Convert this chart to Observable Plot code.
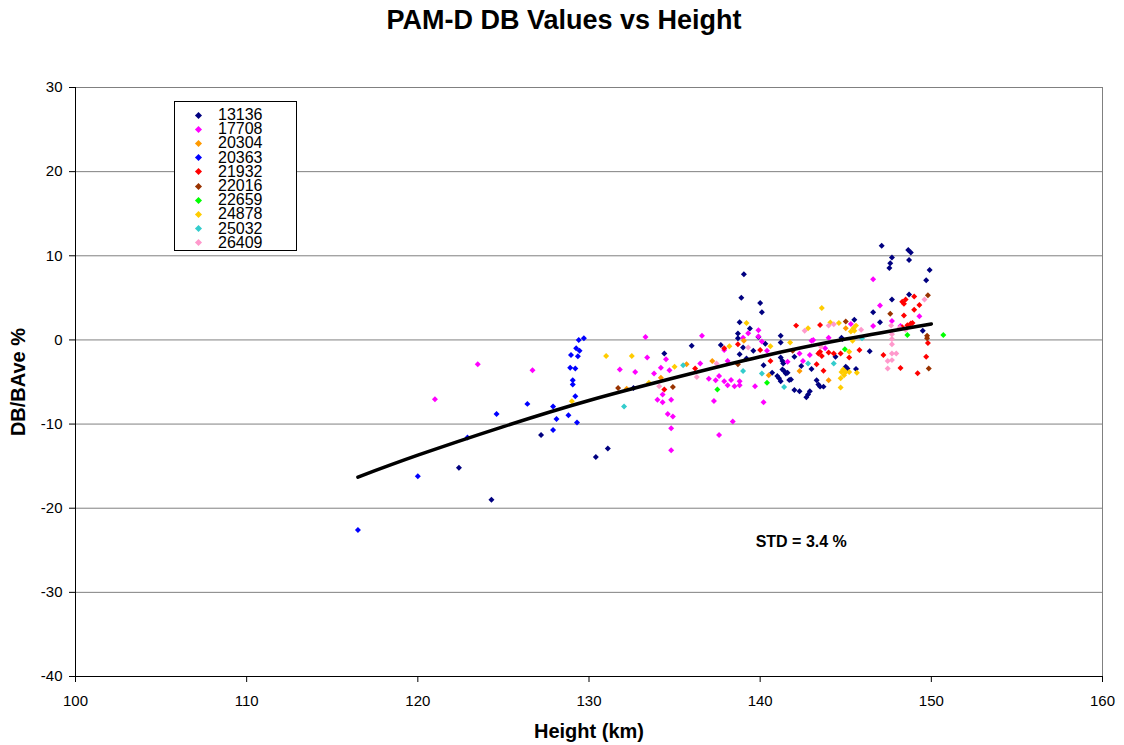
<!DOCTYPE html>
<html>
<head>
<meta charset="utf-8">
<script src="https://cdn.jsdelivr.net/npm/d3@7"></script>
<script src="https://cdn.jsdelivr.net/npm/@observablehq/plot@0.6"></script>
<style>
  html, body { margin: 0; padding: 0; background: white; }
  #wrap { position: relative; width: 1124px; height: 745px; font-family: "Liberation Sans", Arial, sans-serif; }
  #legend { position: absolute; left: 174px; top: 101px; width: 121px; height: 148px; border: 1px solid black; background: white; box-sizing: content-box; padding-top: 0; }
  .row { position: absolute; left: 0; height: 14.2px; line-height: 14.2px; font-size: 16px; width: 121px; }
  .row .sym { position: absolute; left: 21px; top: 4.6px; width: 5px; height: 5px; transform: rotate(45deg); }
  .row .lab { position: absolute; left: 43px; top: 0; }
</style>
</head>
<body>
<div id="wrap"><div id="legend"></div></div>
<script>
// ---- data (height km, DB/BAve %) ----
const s13136 = [[122.4,-15.2],[124.3,-19.0],[127.2,-11.3],[130.4,-13.9],[131.1,-12.9],[132.6,-5.7],[134.4,-1.6],[136.0,-0.7],[137.7,-0.6],[138.7,0.75],[138.8,2.1],[138.7,0.2],[138.8,-1.7],[139.0,-0.9],[139.4,1.35],[139.2,-2.2],[139.05,7.8],[138.9,5.0],[140.0,4.4],[140.1,3.3],[139.9,0.36],[140.3,-0.44],[140.2,-3.0],[140.7,-3.9],[141.2,0.5],[141.2,-0.3],[141.4,-3.7],[141.6,-3.9],[141.7,-4.75],[139.6,-1.3],[141.2,-2.1],[141.3,-2.5],[141.35,-2.8],[142.0,-2.0],[142.4,-3.1],[143.0,-3.45],[141.3,-3.5],[141.5,-4.0],[141.0,-4.3],[141.1,-4.55],[141.2,-4.9],[141.8,-4.7],[143.3,-4.8],[143.4,-5.3],[143.5,-5.55],[143.7,-5.55],[142.0,-5.95],[142.3,-6.1],[142.9,-6.1],[142.8,-6.5],[142.7,-6.8],[147.1,11.2],[147.7,9.8],[147.6,9.1],[147.55,8.55],[148.65,10.7],[148.8,10.4],[148.7,9.5],[149.9,8.3],[149.7,7.1],[148.7,5.4],[147.7,4.8],[146.6,3.3],[147.0,2.1],[149.5,1.1],[146.4,-1.35],[144.8,0.1],[145.5,2.4],[144.4,-2.0],[144.75,0.25],[145.6,-3.45],[145.0,-3.2],[145.1,-3.4]];
const s17708 = [[121.0,-7.05],[123.5,-2.9],[126.7,-3.6],[131.8,-3.5],[132.7,-3.8],[133.3,0.36],[133.4,-2.1],[134.5,-2.3],[133.8,-4.0],[134.2,-3.3],[134.7,-3.6],[134.3,-6.5],[134.0,-7.1],[134.3,-7.4],[134.8,-7.1],[134.6,-8.8],[134.9,-9.1],[134.8,-10.5],[134.8,-13.1],[136.6,0.5],[136.5,-2.8],[137.0,-4.6],[137.4,-4.8],[137.6,-4.3],[137.9,-4.9],[138.1,-5.4],[138.3,-4.75],[138.5,-5.5],[138.8,-4.9],[138.8,-5.4],[137.3,-7.25],[138.4,-9.7],[137.6,-11.3],[138.1,-2.5],[137.9,-1.2],[139.0,0.27],[139.3,0.8],[139.9,1.15],[140.1,-0.2],[140.4,-1.3],[139.7,-5.5],[140.2,-7.4],[141.6,-2.6],[139.9,0.4],[142.3,-1.6],[143.0,-0.1],[144.0,0.27],[142.5,-2.5],[142.9,-1.8],[143.8,-1.0],[143.1,0.0],[146.6,7.2],[147.0,4.1],[149.3,2.8],[147.7,2.26],[146.6,1.66],[148.2,1.66],[145.3,1.9]];
const s20304 = [[134.2,-4.5],[135.7,-2.9],[132.2,-5.8],[137.2,-2.5],[139.05,-0.1],[140.5,-4.2],[142.3,-3.7],[144.0,-4.8],[145.0,1.4]];
const s20363 = [[116.5,-22.6],[120.0,-16.2],[122.9,-11.6],[124.6,-8.8],[126.4,-7.6],[127.9,-7.9],[128.1,-9.4],[127.9,-10.7],[128.8,-8.95],[129.3,-9.8],[129.2,-6.7],[129.05,-4.8],[129.05,-5.3],[128.9,-3.3],[129.2,-3.4],[128.95,-1.8],[129.35,-1.95],[129.25,-1.0],[129.45,-1.3],[129.4,0.0],[129.7,0.2]];
const s21932 = [[134.4,-5.9],[136.2,-3.4],[137.9,-1.0],[138.7,-0.5],[140.0,-1.2],[140.6,-2.5],[142.1,1.7],[143.5,1.78],[143.5,-1.4],[143.6,-1.9],[143.4,-1.6],[144.0,-1.5],[144.3,-1.6],[143.3,-2.9],[143.7,-3.65],[144.7,-1.6],[145.2,-2.1],[145.8,-1.2],[147.2,-1.8],[149.0,5.15],[148.3,4.55],[148.5,4.8],[148.4,4.3],[149.3,4.16],[149.0,3.6],[148.4,2.9],[148.6,1.75],[148.8,1.94],[148.9,2.0],[148.3,1.5],[149.8,-0.36],[148.2,-3.33],[149.7,-2.0],[149.2,-3.96]];
const s22016 = [[131.7,-5.7],[134.9,-5.6],[138.7,-2.9],[141.9,-1.3],[145.0,2.2],[147.6,3.1],[149.8,5.3],[149.75,0.5],[149.75,0.2],[149.85,-3.4]];
const s22659 = [[137.5,-5.9],[140.4,-5.1],[144.95,-1.1],[148.6,0.6],[150.7,0.6]];
const s24878 = [[129.0,-7.3],[131.0,-1.9],[132.5,-1.9],[133.5,-5.1],[135.0,-3.2],[138.2,-0.75],[139.2,2.0],[140.6,-0.75],[141.75,-0.3],[142.8,1.4],[143.6,3.8],[144.1,2.06],[144.6,2.0],[145.2,-1.4],[145.3,1.0],[145.45,1.4],[145.6,1.7],[145.5,1.1],[145.4,-0.1],[144.85,-3.5],[144.75,-3.8],[145.0,-3.8],[144.9,-4.2],[144.7,-4.55],[144.7,-5.66],[145.2,-3.8],[145.65,-3.9]];
const s25032 = [[132.05,-7.9],[135.5,-3.0],[139.0,-3.7],[140.1,-4.0],[141.4,-5.6],[142.8,-2.8],[144.3,-2.8],[145.95,0.2]];
const s26409 = [[134.1,-5.5],[136.3,-4.4],[137.45,-2.8],[139.3,-0.9],[142.6,1.1],[144.0,1.7],[143.55,-0.8],[144.3,1.86],[145.9,1.2],[149.6,4.8],[147.65,1.7],[148.5,1.2],[148.15,1.46],[147.7,0.67],[147.7,0.1],[147.7,-0.5],[147.7,-1.6],[147.95,-1.6],[147.45,-2.5],[147.7,-2.4],[147.45,-3.4]];

const seriesIds = ["13136","17708","20304","20363","21932","22016","22659","24878","25032","26409"];
const seriesData = [s13136,s17708,s20304,s20363,s21932,s22016,s22659,s24878,s25032,s26409];

// trend curve
const trendX = [116.5, 120, 125, 130, 135, 140, 145, 150];
const trendY = [-16.3, -13.7, -10.3, -7.2, -4.5, -2.0, 0.1, 1.9];

const xTicks = [100, 110, 120, 130, 140, 150, 160];
const yTicks = [-40, -30, -20, -10, 0, 10, 20, 30];
const stdLabel = "STD = 3.4 %";

// ---- styles ----
const seriesColors = ["#000080","#FF00FF","#FF9900","#0000FF","#FF0000","#993300","#00FF00","#FFCC00","#33CCCC","#FF99CC"];

const rows = seriesIds.flatMap((id, i) => seriesData[i].map(([h, v]) => ({id, h, v})));
const trend = trendX.map((x, i) => ({x, y: trendY[i]}));

const chart = Plot.plot({
  width: 1124,
  height: 745,
  marginLeft: 75,
  marginRight: 22,
  marginTop: 87,
  marginBottom: 69,
  style: {fontFamily: "'Liberation Sans', Arial, sans-serif", fontSize: "15px", background: "white", color: "black"},
  x: {domain: [100, 160], label: null},
  y: {domain: [-40, 30], label: null},
  color: {domain: seriesIds, range: seriesColors},
  marks: [
    Plot.ruleY(yTicks.filter(d => d > -40), {stroke: "#808080", strokeWidth: 1}),
    Plot.ruleX([160], {stroke: "#808080", strokeWidth: 1}),
    Plot.ruleX([100], {stroke: "black", strokeWidth: 1}),
    Plot.ruleY([-40], {stroke: "black", strokeWidth: 1}),
    Plot.axisX({ticks: xTicks, tickSize: 6, tickPadding: 13, tickFormat: d => String(d), label: null, fontSize: 15}),
    Plot.axisY({ticks: yTicks, tickSize: 6, tickPadding: 7, tickFormat: d => String(d), label: null, fontSize: 15}),
    Plot.dot(rows, {x: "h", y: "v", fill: "id", symbol: "diamond2", r: 2.7}),
    Plot.line(trend, {x: "x", y: "y", stroke: "black", strokeWidth: 3.5, curve: "natural"}),
    Plot.text([stdLabel], {x: [142.4], y: [-24.0], text: d => d, fontWeight: "bold", fontSize: 16, textAnchor: "middle", lineAnchor: "middle"}),
    Plot.text(["PAM-D DB Values vs Height"], {frameAnchor: "top", dy: -67, dx: -25, text: d => d, fontWeight: "bold", fontSize: 27, textAnchor: "middle", lineAnchor: "middle"}),
    Plot.text(["Height (km)"], {frameAnchor: "bottom", dy: 55, text: d => d, fontWeight: "bold", fontSize: 20, textAnchor: "middle", lineAnchor: "middle"}),
    Plot.text(["DB/BAve %"], {frameAnchor: "left", dx: -57, rotate: -90, text: d => d, fontWeight: "bold", fontSize: 20, textAnchor: "middle", lineAnchor: "middle"})
  ]
});
document.getElementById("wrap").prepend(chart);

// legend
const legend = document.getElementById("legend");
seriesIds.forEach((id, i) => {
  const row = document.createElement("div");
  row.className = "row";
  row.style.top = (6 + i * 14.2) + "px";
  const sym = document.createElement("span");
  sym.className = "sym";
  sym.style.background = seriesColors[i];
  const lab = document.createElement("span");
  lab.className = "lab";
  lab.textContent = id;
  row.appendChild(sym);
  row.appendChild(lab);
  legend.appendChild(row);
});
</script>
</body>
</html>
